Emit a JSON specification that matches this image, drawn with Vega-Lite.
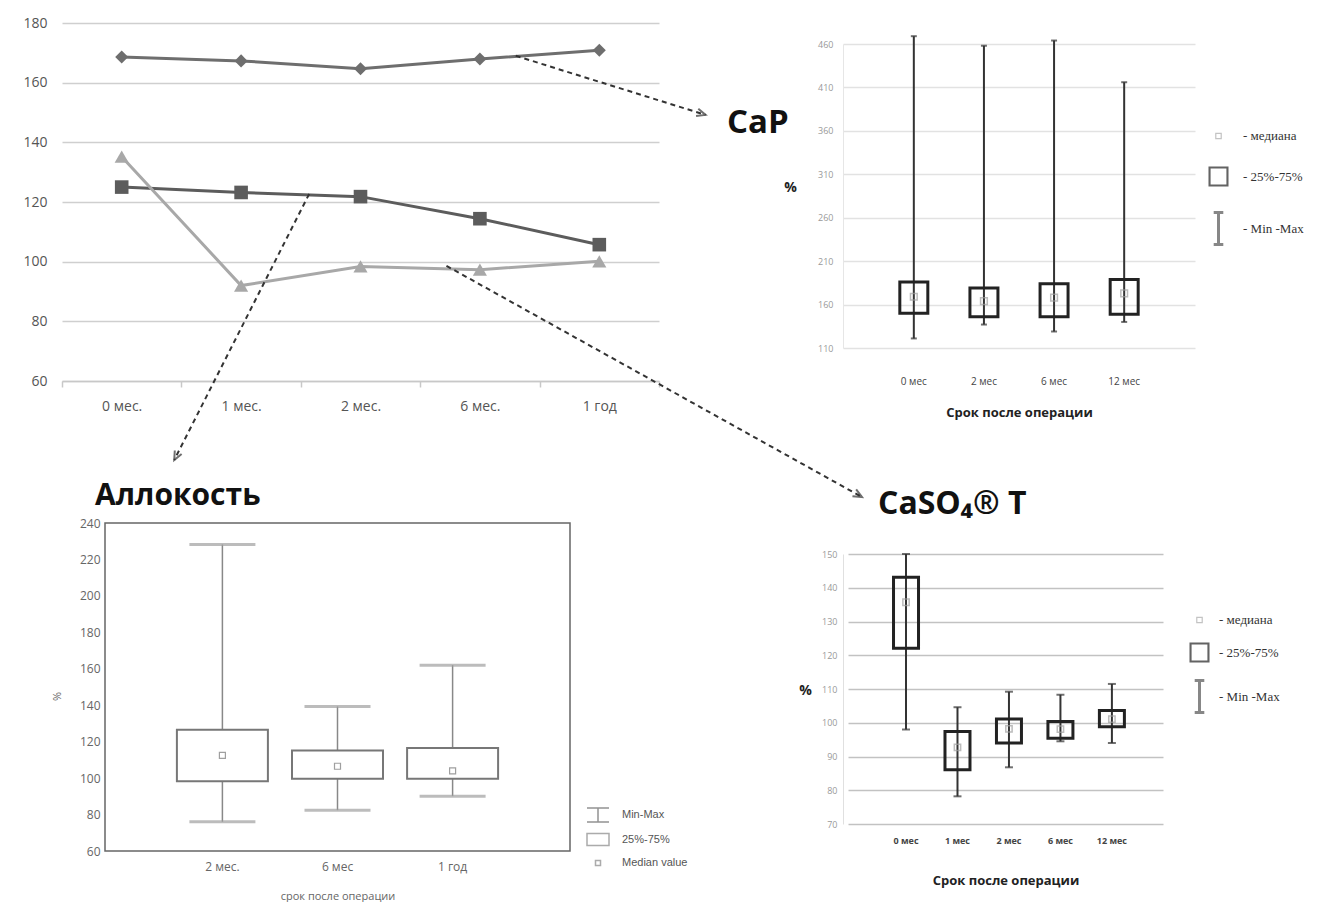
{
  "$schema": "https://vega.github.io/schema/vega-lite/v6.json",
  "background": "white",
  "padding": {"left": 22, "top": 16, "right": 0, "bottom": 0},
  "config": {
    "view": {"stroke": null},
    "font": "Open Sans",
    "axis": {"labelFont": "Open Sans", "titleFont": "Open Sans"},
    "title": {"font": "Open Sans"},
    "legend": {"padding": 0}
  },
  "datasets": {
    "line": [
      {"t": "0 мес.", "s": "CaP", "v": 168.6},
      {"t": "1 мес.", "s": "CaP", "v": 167.3},
      {"t": "2 мес.", "s": "CaP", "v": 164.7},
      {"t": "6 мес.", "s": "CaP", "v": 167.9},
      {"t": "1 год", "s": "CaP", "v": 170.9},
      {"t": "0 мес.", "s": "Аллокость", "v": 125.0},
      {"t": "1 мес.", "s": "Аллокость", "v": 123.2},
      {"t": "2 мес.", "s": "Аллокость", "v": 121.8},
      {"t": "6 мес.", "s": "Аллокость", "v": 114.4},
      {"t": "1 год", "s": "Аллокость", "v": 105.7},
      {"t": "0 мес.", "s": "CaSO4 T", "v": 135.2},
      {"t": "1 мес.", "s": "CaSO4 T", "v": 92.0},
      {"t": "2 мес.", "s": "CaSO4 T", "v": 98.4},
      {"t": "6 мес.", "s": "CaSO4 T", "v": 97.3},
      {"t": "1 год", "s": "CaSO4 T", "v": 100.1}
    ],
    "arrows": [
      {"id": "CaP", "x": 3.80, "y": 169.0, "x2": 5.39, "y2": 149.2},
      {"id": "Аллокость", "x": 2.07, "y": 122.7, "x2": 0.94, "y2": 33.5},
      {"id": "CaSO4 T", "x": 3.22, "y": 98.6, "x2": 6.70, "y2": 21.1}
    ],
    "cap": [
      {"t": "0 мес", "min": 121, "q1": 150, "med": 169, "q3": 186, "max": 469},
      {"t": "2 мес", "min": 137, "q1": 146, "med": 164, "q3": 179, "max": 458},
      {"t": "6 мес", "min": 129, "q1": 146, "med": 168, "q3": 184, "max": 464},
      {"t": "12 мес", "min": 140, "q1": 149, "med": 173, "q3": 189, "max": 416}
    ],
    "allo": [
      {"t": "2 мес.", "min": 76.0, "q1": 98.3, "med": 112.5, "q3": 126.5, "max": 228.2},
      {"t": "6 мес", "min": 82.4, "q1": 99.6, "med": 106.5, "q3": 115.2, "max": 139.3},
      {"t": "1 год", "min": 90.1, "q1": 99.6, "med": 104.0, "q3": 116.5, "max": 162.0}
    ],
    "caso": [
      {"t": "0 мес", "min": 98.0, "q1": 122.1, "med": 135.7, "q3": 143.1, "max": 150.0},
      {"t": "1 мес", "min": 78.2, "q1": 86.1, "med": 92.7, "q3": 97.4, "max": 104.6},
      {"t": "2 мес", "min": 86.8, "q1": 94.0, "med": 98.2, "q3": 101.1, "max": 109.2},
      {"t": "6 мес", "min": 94.5, "q1": 95.4, "med": 98.1, "q3": 100.4, "max": 108.3},
      {"t": "12 мес", "min": 94.0, "q1": 98.8, "med": 101.1, "q3": 103.6, "max": 111.5}
    ],
    "leg_ru": [{"k": "-  медиана"}, {"k": "-  25%-75%"}, {"k": "- Min -Max"}],
    "leg_en": [{"k": "Min-Max"}, {"k": "25%-75%"}, {"k": "Median value"}]
  },
  "columns": 2,
  "bounds": "flush",
  "spacing": {"row": 142, "column": 184},
  "resolve": {
    "scale": {"color": "independent", "shape": "independent", "strokeWidth": "independent", "size": "independent"},
    "legend": {"color": "independent", "shape": "independent", "strokeWidth": "independent", "size": "independent"}
  },
  "concat": [
    {
      "width": 554,
      "height": 358,
      "resolve": {"scale": {"x": "independent"}, "axis": {"x": "independent"}},
      "layer": [
        {
          "data": {"name": "line"},
          "encoding": {
            "x": {
              "field": "t", "type": "ordinal",
              "scale": {"type": "band", "domain": ["0 мес.", "1 мес.", "2 мес.", "6 мес.", "1 год"], "range": [-43, 554], "paddingInner": 0, "paddingOuter": 0},
              "axis": {"title": null, "labelAngle": 0, "grid": false, "domainColor": "#c8c8c8", "domainWidth": 1.5, "tickColor": "#c8c8c8", "tickWidth": 1.5, "tickSize": 6, "tickBand": "extent", "labelFontSize": 14, "labelColor": "#555", "labelPadding": 12}
            },
            "y": {
              "field": "v", "type": "quantitative",
              "scale": {"domain": [60, 180], "nice": false, "zero": false},
              "axis": {"title": null, "values": [60, 80, 100, 120, 140, 160, 180], "tickCount": 20, "offset": 43, "domain": false, "ticks": false, "labelPadding": 15, "labelFontSize": 14, "labelColor": "#555", "gridColor": "#cfcfcf", "gridWidth": 1.5, "labelOverlap": false}
            }
          },
          "layer": [
            {
              "mark": {"type": "line"},
              "encoding": {
                "color": {"field": "s", "type": "nominal", "scale": {"domain": ["CaP", "Аллокость", "CaSO4 T"], "range": ["#6e6e6e", "#5c5c5c", "#a8a8a8"]}, "legend": null},
                "strokeWidth": {"field": "s", "type": "nominal", "scale": {"domain": ["CaP", "Аллокость", "CaSO4 T"], "range": [3, 3, 2]}, "legend": null}
              }
            },
            {
              "mark": {"type": "point", "filled": true, "opacity": 1},
              "encoding": {
                "color": {"field": "s", "type": "nominal", "scale": {"domain": ["CaP", "Аллокость", "CaSO4 T"], "range": ["#767676", "#656565", "#ababab"]}, "legend": null},
                "shape": {"field": "s", "type": "nominal", "scale": {"domain": ["CaP", "Аллокость", "CaSO4 T"], "range": ["diamond", "square", "triangle-up"]}, "legend": null},
                "size": {"field": "s", "type": "nominal", "scale": {"domain": ["CaP", "Аллокость", "CaSO4 T"], "range": [170, 200, 150]}, "legend": null}
              }
            }
          ]
        },
        {
          "data": {"name": "arrows"},
          "encoding": {
            "x": {"field": "x", "type": "quantitative", "scale": {"domain": [0, 5], "range": [-43, 554], "nice": false, "zero": false}, "axis": null},
            "y": {"field": "y", "type": "quantitative"}
          },
          "layer": [
            {
              "mark": {"type": "rule", "color": "#333", "strokeWidth": 2, "strokeDash": [5, 4]},
              "encoding": {"x2": {"field": "x2"}, "y2": {"field": "y2"}}
            },
            {
              "transform": [{"filter": "datum.id === 'CaP'"}],
              "mark": {"type": "point", "shape": "M-0.7,1.6L0,0L0.7,1.6", "filled": false, "color": "#333", "strokeWidth": 2, "size": 120, "angle": 107},
              "encoding": {"x": {"field": "x2", "type": "quantitative"}, "y": {"field": "y2", "type": "quantitative"}}
            },
            {
              "transform": [{"filter": "datum.id === 'Аллокость'"}],
              "mark": {"type": "point", "shape": "M-0.7,1.6L0,0L0.7,1.6", "filled": false, "color": "#333", "strokeWidth": 2, "size": 120, "angle": 207},
              "encoding": {"x": {"field": "x2", "type": "quantitative"}, "y": {"field": "y2", "type": "quantitative"}}
            },
            {
              "transform": [{"filter": "datum.id === 'CaSO4 T'"}],
              "mark": {"type": "point", "shape": "M-0.7,1.6L0,0L0.7,1.6", "filled": false, "color": "#333", "strokeWidth": 2, "size": 120, "angle": 119},
              "encoding": {"x": {"field": "x2", "type": "quantitative"}, "y": {"field": "y2", "type": "quantitative"}}
            }
          ]
        }
      ]
    },
    {
      "width": 352,
      "height": 325,
      "title": {"text": "CaP", "anchor": "start", "frame": "group", "orient": "top", "offset": 0, "fontSize": 33, "fontWeight": "bold", "color": "#111", "dx": -116, "dy": 150, "baseline": "bottom"},
      "layer": [
        {
          "data": {"name": "cap"},
          "encoding": {
            "x": {
              "field": "t", "type": "ordinal",
              "scale": {"type": "band", "domain": ["0 мес", "2 мес", "6 мес", "12 мес"], "paddingInner": 0, "paddingOuter": 0.51},
              "axis": {"title": "Срок после операции", "labelAngle": 0, "domain": false, "ticks": false, "grid": false, "labelFontSize": 10, "labelColor": "#444", "labelPadding": 28, "titleFontSize": 13, "titleFontWeight": "bold", "titleColor": "#222", "titleY": 58, "titleBaseline": "top"}
            }
          },
          "layer": [
            {
              "mark": {"type": "rule", "color": "#333", "strokeWidth": 2},
              "encoding": {
                "y": {
                  "field": "min", "type": "quantitative",
                  "scale": {"domain": [110, 460], "range": [325, 21], "nice": false, "zero": false},
                  "axis": {"title": "%", "titleAngle": 0, "titleX": -53, "titleY": 164, "titleAlign": "center", "titleBaseline": "middle", "titleFontSize": 14, "titleFontWeight": "bold", "titleColor": "#222", "values": [110, 160, 210, 260, 310, 360, 410, 460], "tickCount": 20, "labelOverlap": false, "labelFontSize": 9, "labelColor": "#999", "labelPadding": 10, "ticks": false, "domainColor": "#e6e6e6", "gridColor": "#e2e2e2", "gridWidth": 1.5}
                },
                "y2": {"field": "max"}
              }
            },
            {"mark": {"type": "tick", "color": "#333", "size": 6, "thickness": 2}, "encoding": {"y": {"field": "min", "type": "quantitative"}}},
            {"mark": {"type": "tick", "color": "#333", "size": 6, "thickness": 2}, "encoding": {"y": {"field": "max", "type": "quantitative"}}},
            {"mark": {"type": "bar", "width": 28, "fill": "transparent", "stroke": "#222", "strokeWidth": 3}, "encoding": {"y": {"field": "q1", "type": "quantitative"}, "y2": {"field": "q3"}}},
            {"mark": {"type": "point", "shape": "square", "size": 45, "filled": false, "color": "#a0a0a0", "strokeWidth": 1.5}, "encoding": {"y": {"field": "med", "type": "quantitative"}}}
          ]
        },
        {
          "data": {"name": "leg_ru"},
          "mark": {"type": "point", "filled": false},
          "encoding": {
            "y": {"field": "ny", "type": "quantitative"},
            "shape": {"field": "k", "type": "nominal", "scale": {"domain": ["-  медиана", "-  25%-75%", "- Min -Max"], "range": ["M-0.17,-0.17H0.17V0.17H-0.17Z", "M-0.56,-0.56H0.56V0.56H-0.56Z", "M0,-1V1M-0.3,-1H0.3M-0.3,1H0.3"]},
              "legend": {"orient": "none", "legendX": 358, "legendY": 96, "title": null, "labelFont": "Liberation Serif", "labelFontSize": 13, "labelColor": "#333", "symbolSize": 1024, "rowPadding": 16, "labelOffset": 7}},
            "color": {"field": "k", "type": "nominal", "scale": {"domain": ["-  медиана", "-  25%-75%", "- Min -Max"], "range": ["#aaaaaa", "#222222", "#555555"]},
              "legend": {"orient": "none", "legendX": 358, "legendY": 96, "title": null, "labelFont": "Liberation Serif", "labelFontSize": 13, "labelColor": "#333", "symbolSize": 1024, "rowPadding": 16, "labelOffset": 7}},
            "strokeWidth": {"field": "k", "type": "nominal", "scale": {"domain": ["-  медиана", "-  25%-75%", "- Min -Max"], "range": [1.2, 3, 1.2]},
              "legend": {"orient": "none", "legendX": 358, "legendY": 96, "title": null, "labelFont": "Liberation Serif", "labelFontSize": 13, "labelColor": "#333", "symbolSize": 1024, "rowPadding": 16, "labelOffset": 7}}
          }
        }
      ]
    },
    {
      "width": 465,
      "height": 328,
      "view": {"stroke": "#666", "strokeWidth": 1.5},
      "title": {"text": "Аллокость", "anchor": "start", "frame": "group", "orient": "top", "offset": 0, "fontSize": 30, "fontWeight": "bold", "color": "#111", "dx": -10, "dy": 24, "baseline": "bottom"},
      "layer": [
        {
          "data": {"name": "allo"},
          "encoding": {
            "x": {
              "field": "t", "type": "ordinal",
              "scale": {"type": "band", "domain": ["2 мес.", "6 мес", "1 год"], "paddingInner": 0, "paddingOuter": 0.52},
              "axis": {"title": "срок после операции", "labelAngle": 0, "domain": false, "ticks": false, "grid": false, "labelFontSize": 12, "labelColor": "#666", "labelPadding": 10, "titleFontSize": 11, "titleFontWeight": "normal", "titleColor": "#666", "titleY": 39, "titleBaseline": "top"}
            }
          },
          "layer": [
            {
              "mark": {"type": "rule", "color": "#888", "strokeWidth": 1.5},
              "encoding": {
                "y": {
                  "field": "min", "type": "quantitative",
                  "scale": {"domain": [60, 240], "nice": false, "zero": false},
                  "axis": {"title": "%", "titleAngle": -90, "titleX": -48, "titleY": 173, "titleAlign": "center", "titleBaseline": "middle", "titleFontSize": 11, "titleFontWeight": "normal", "titleColor": "#666", "values": [60, 80, 100, 120, 140, 160, 180, 200, 220, 240], "tickCount": 20, "labelOverlap": false, "labelFontSize": 12, "labelColor": "#666", "labelPadding": 5, "ticks": false, "domain": false, "grid": false}
                },
                "y2": {"field": "max"}
              }
            },
            {"mark": {"type": "tick", "color": "#a0a0a0", "size": 66, "thickness": 3}, "encoding": {"y": {"field": "min", "type": "quantitative"}}},
            {"mark": {"type": "tick", "color": "#a0a0a0", "size": 66, "thickness": 3}, "encoding": {"y": {"field": "max", "type": "quantitative"}}},
            {"mark": {"type": "bar", "width": 91, "fill": "white", "stroke": "#777", "strokeWidth": 2}, "encoding": {"y": {"field": "q1", "type": "quantitative"}, "y2": {"field": "q3"}}},
            {"mark": {"type": "point", "shape": "square", "size": 36, "filled": false, "color": "#777", "strokeWidth": 1.2}, "encoding": {"y": {"field": "med", "type": "quantitative"}}}
          ]
        },
        {
          "data": {"name": "leg_en"},
          "mark": {"type": "point", "filled": false},
          "encoding": {
            "y": {"field": "ny", "type": "quantitative"},
            "shape": {"field": "k", "type": "nominal", "scale": {"domain": ["Min-Max", "25%-75%", "Median value"], "range": ["M-1.1,-0.7H1.1M0,-0.7V0.7M-1.1,0.7H1.1", "M-1.1,-0.6H1.1V0.6H-1.1Z", "M-0.25,-0.25H0.25V0.25H-0.25Z"]},
              "legend": {"orient": "none", "legendX": 482, "legendY": 281, "title": null, "labelFont": "Liberation Sans", "labelFontSize": 11, "labelColor": "#555", "symbolSize": 400, "rowPadding": 3.5, "labelOffset": 13}},
            "color": {"field": "k", "type": "nominal", "scale": {"domain": ["Min-Max", "25%-75%", "Median value"], "range": ["#666666", "#888888", "#888888"]},
              "legend": {"orient": "none", "legendX": 482, "legendY": 281, "title": null, "labelFont": "Liberation Sans", "labelFontSize": 11, "labelColor": "#555", "symbolSize": 400, "rowPadding": 3.5, "labelOffset": 13}}
          }
        }
      ]
    },
    {
      "width": 320,
      "height": 301,
      "title": {"text": "CaSO₄® T", "anchor": "start", "frame": "group", "orient": "top", "offset": 0, "fontSize": 32, "fontWeight": "bold", "color": "#111", "dx": 35, "dy": 30, "baseline": "bottom"},
      "layer": [
        {
          "data": {"name": "caso"},
          "encoding": {
            "x": {
              "field": "t", "type": "ordinal",
              "scale": {"type": "band", "domain": ["0 мес", "1 мес", "2 мес", "6 мес", "12 мес"], "range": [5, 320], "paddingInner": 0, "paddingOuter": 0.56, "align": 0.56},
              "axis": {"title": "Срок после операции", "labelAngle": 0, "domain": false, "ticks": false, "grid": false, "labelFontSize": 9, "labelFontWeight": "bold", "labelColor": "#444", "labelPadding": 12, "titleFontSize": 13, "titleFontWeight": "bold", "titleColor": "#222", "titleY": 50, "titleBaseline": "top"}
            }
          },
          "layer": [
            {
              "mark": {"type": "rule", "color": "#333", "strokeWidth": 2},
              "encoding": {
                "y": {
                  "field": "min", "type": "quantitative",
                  "scale": {"domain": [70, 150], "range": [301, 31], "nice": false, "zero": false},
                  "axis": {"title": "%", "titleAngle": 0, "titleX": -38, "titleY": 167, "titleAlign": "center", "titleBaseline": "middle", "titleFontSize": 14, "titleFontWeight": "bold", "titleColor": "#222", "values": [70, 80, 90, 100, 110, 120, 130, 140, 150], "tickCount": 20, "labelOverlap": false, "labelFontSize": 9, "labelColor": "#999", "labelPadding": 6, "ticks": false, "domainColor": "#e0e0e0", "gridColor": "#c2c2c2", "gridWidth": 1.5}
                },
                "y2": {"field": "max"}
              }
            },
            {"mark": {"type": "tick", "color": "#333", "size": 8, "thickness": 2}, "encoding": {"y": {"field": "min", "type": "quantitative"}}},
            {"mark": {"type": "tick", "color": "#333", "size": 8, "thickness": 2}, "encoding": {"y": {"field": "max", "type": "quantitative"}}},
            {"mark": {"type": "bar", "width": 25, "fill": "transparent", "stroke": "#222", "strokeWidth": 3}, "encoding": {"y": {"field": "q1", "type": "quantitative"}, "y2": {"field": "q3"}}},
            {"mark": {"type": "point", "shape": "square", "size": 40, "filled": false, "color": "#a0a0a0", "strokeWidth": 1.5}, "encoding": {"y": {"field": "med", "type": "quantitative"}}}
          ]
        },
        {
          "data": {"name": "leg_ru"},
          "mark": {"type": "point", "filled": false},
          "encoding": {
            "y": {"field": "ny", "type": "quantitative"},
            "shape": {"field": "k", "type": "nominal", "scale": {"domain": ["-  медиана", "-  25%-75%", "- Min -Max"], "range": ["M-0.17,-0.17H0.17V0.17H-0.17Z", "M-0.56,-0.56H0.56V0.56H-0.56Z", "M0,-1V1M-0.3,-1H0.3M-0.3,1H0.3"]},
              "legend": {"orient": "none", "legendX": 339, "legendY": 80, "title": null, "labelFont": "Liberation Serif", "labelFontSize": 13, "labelColor": "#333", "symbolSize": 1024, "rowPadding": 8, "labelOffset": 2}},
            "color": {"field": "k", "type": "nominal", "scale": {"domain": ["-  медиана", "-  25%-75%", "- Min -Max"], "range": ["#aaaaaa", "#222222", "#555555"]},
              "legend": {"orient": "none", "legendX": 339, "legendY": 80, "title": null, "labelFont": "Liberation Serif", "labelFontSize": 13, "labelColor": "#333", "symbolSize": 1024, "rowPadding": 8, "labelOffset": 2}},
            "strokeWidth": {"field": "k", "type": "nominal", "scale": {"domain": ["-  медиана", "-  25%-75%", "- Min -Max"], "range": [1.2, 3, 1.2]},
              "legend": {"orient": "none", "legendX": 339, "legendY": 80, "title": null, "labelFont": "Liberation Serif", "labelFontSize": 13, "labelColor": "#333", "symbolSize": 1024, "rowPadding": 8, "labelOffset": 2}}
          }
        }
      ]
    }
  ]
}
